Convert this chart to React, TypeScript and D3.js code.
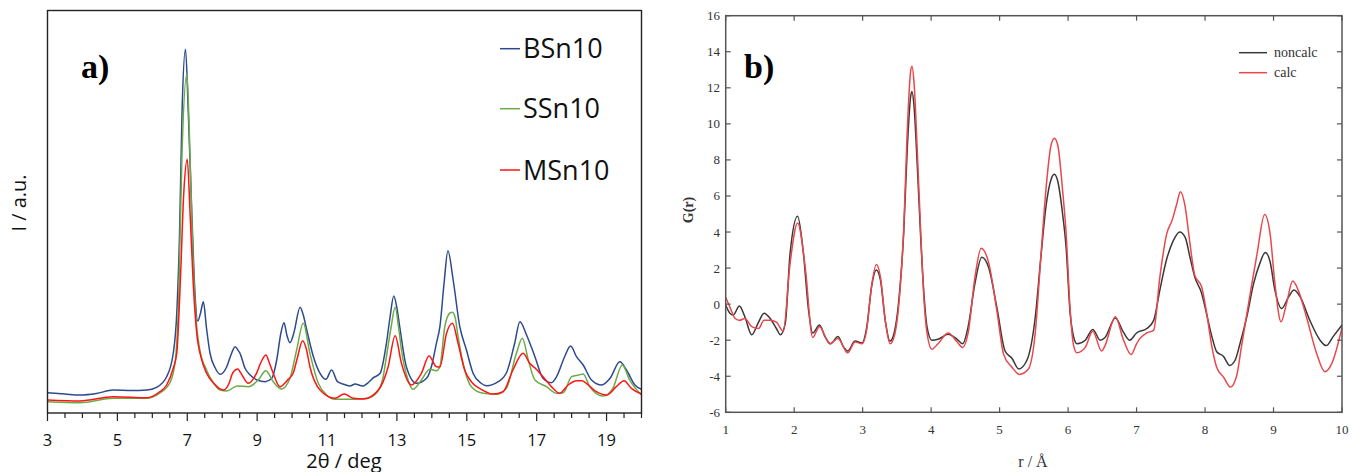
import React from "react";
import * as d3 from "d3";

// ---------- Panel a) XRD data (2θ in deg, intensity in a.u.) ----------
const bsn10: [number, number][] = [
  [3.0,20.3],[3.5,19],[3.93,18],[4.4,19.5],[4.88,23],[5.4,22.5],[5.84,23],[6.12,25.7],[6.41,36.3],[6.6,60],[6.7,100],[6.78,180],[6.85,300],[6.95,363.7],[7.03,300],[7.13,200],[7.22,120],[7.3,92],[7.38,100],[7.46,111.3],[7.55,85],[7.65,60],[7.8,45],[7.94,38.7],[8.13,46.3],[8.25,58],[8.37,66.3],[8.45,63],[8.51,59.7],[8.65,45],[8.8,38],[9.0,33],[9.23,31.3],[9.42,34.7],[9.56,53],[9.68,80],[9.77,90.3],[9.85,78],[9.94,70.3],[10.05,80],[10.23,105.7],[10.32,98],[10.42,83],[10.61,56.3],[10.8,39.7],[10.97,33.7],[11.13,43],[11.3,31.3],[11.5,28.5],[11.66,27],[11.8,29],[12.02,27],[12.2,31],[12.33,35.3],[12.52,39.7],[12.7,69.7],[12.8,95],[12.91,117],[13.0,105],[13.08,86.3],[13.27,46.3],[13.56,29.7],[13.85,34.7],[14.0,48],[14.13,69.7],[14.23,86.3],[14.35,130],[14.46,162.3],[14.61,133],[14.8,86.3],[14.99,63],[15.18,39.7],[15.4,30],[15.57,27.3],[15.9,31.3],[16.13,39.7],[16.37,69.7],[16.52,91.3],[16.71,78],[16.95,56.3],[17.18,34.7],[17.42,30.3],[17.57,36.3],[17.8,56.3],[17.97,67],[18.14,56.3],[18.33,48],[18.57,33],[18.86,28],[19.1,34.7],[19.38,51.3],[19.57,43],[19.81,28],[20.0,23.7]
];
const ssn10: [number, number][] = [
  [3.0,11.3],[3.93,10.3],[4.88,14.7],[5.84,14.7],[6.2,19.7],[6.5,30],[6.65,50],[6.75,110],[6.85,260],[6.99,339],[7.06,280],[7.15,170],[7.25,95],[7.35,65],[7.55,43],[7.75,30],[7.94,23],[8.13,22],[8.43,27],[8.75,26.3],[9.03,33],[9.25,42.3],[9.46,31.3],[9.7,24],[9.94,34.7],[10.13,63],[10.32,89.7],[10.51,59.7],[10.75,29.7],[10.99,18],[11.23,13.7],[11.75,13.7],[12.14,14.7],[12.42,20.3],[12.6,35],[12.7,56.3],[12.83,85],[12.95,105.7],[13.05,85],[13.13,63],[13.32,33],[13.46,23.7],[13.7,33],[13.94,43.7],[14.13,42.3],[14.23,46.3],[14.37,86.3],[14.52,100],[14.59,100.7],[14.67,95],[14.75,76.3],[14.94,43],[15.13,26.3],[15.47,19.7],[15.85,18.7],[16.13,24.7],[16.42,59.7],[16.59,74.7],[16.76,53],[16.95,33],[17.28,26.3],[17.57,19.7],[17.76,20.3],[18.0,36.3],[18.2,38],[18.33,39],[18.52,26.3],[18.9,17],[19.18,24.7],[19.45,48],[19.66,33],[20.0,18]
];
const msn10: [number, number][] = [
  [3.0,13],[3.93,12],[4.88,16.3],[5.84,15.3],[6.2,21],[6.41,28],[6.6,45],[6.7,60],[6.8,130],[6.9,220],[7.0,253.7],[7.08,200],[7.17,130],[7.27,80],[7.4,55],[7.55,40],[7.75,30],[8.04,23],[8.2,30],[8.3,40],[8.45,44],[8.51,41.3],[8.75,29.7],[8.98,39.7],[9.1,50],[9.25,58],[9.35,50],[9.46,39.7],[9.65,26.3],[9.89,33.7],[10.03,39.7],[10.15,55],[10.3,72.3],[10.4,65],[10.51,46.3],[10.8,23],[11.23,14.7],[11.49,19],[11.75,14.7],[12.04,14],[12.47,23],[12.75,46.3],[12.95,77.3],[13.13,49.7],[13.41,28],[13.7,39.7],[13.92,57],[14.13,46.3],[14.23,46],[14.42,79.7],[14.59,89.7],[14.75,69.7],[14.94,43],[15.13,31.3],[15.45,23],[15.75,19],[16.04,21.3],[16.32,43],[16.61,59.7],[16.8,49.7],[16.99,43.7],[17.18,36.3],[17.47,24.7],[17.66,19.7],[17.9,28],[18.14,32.3],[18.3,32.3],[18.42,29.7],[18.71,21.3],[19.0,18],[19.28,26.3],[19.5,32.3],[19.71,24.7],[20.0,19]
];
const xrdTickLabels = [3, 5, 7, 9, 11, 13, 15, 17, 19];
const xrdSeriesNames = ["BSn10", "SSn10", "MSn10"];

// ---------- Panel b) PDF data (r in Å, G(r)) ----------
const noncalc: [number, number][] = [
  [1.0,-0.05],[1.06,-0.5],[1.11,-0.6],[1.2,-0.1],[1.28,-0.7],[1.38,-1.7],[1.48,-1.0],[1.56,-0.5],[1.65,-0.8],[1.74,-1.35],[1.8,-1.7],[1.87,-1.07],[1.94,2.8],[2.05,4.88],[2.13,3.0],[2.21,-0.33],[2.27,-1.6],[2.37,-1.16],[2.45,-1.8],[2.53,-2.2],[2.64,-1.8],[2.72,-2.37],[2.78,-2.6],[2.89,-2.05],[2.99,-2.15],[3.06,-1.26],[3.13,0.96],[3.2,1.9],[3.26,1.33],[3.33,-0.9],[3.4,-2.05],[3.46,-1.6],[3.55,1.15],[3.6,4.0],[3.65,8.5],[3.7,11.5],[3.72,11.8],[3.75,11.0],[3.8,7.5],[3.85,3.5],[3.9,0.3],[3.94,-1.26],[4.01,-2.0],[4.1,-1.95],[4.25,-1.67],[4.38,-1.95],[4.46,-2.2],[4.54,-1.26],[4.64,1.15],[4.74,2.6],[4.84,2.03],[4.96,-0.18],[5.08,-2.6],[5.18,-3.0],[5.28,-3.6],[5.4,-3.1],[5.52,-0.74],[5.6,2.5],[5.68,5.5],[5.75,6.9],[5.8,7.2],[5.85,6.8],[5.92,5.0],[5.97,3.2],[6.03,-0.5],[6.08,-1.8],[6.13,-2.2],[6.25,-2.0],[6.36,-1.4],[6.47,-2.0],[6.54,-1.85],[6.69,-0.77],[6.81,-1.57],[6.9,-2.0],[7.0,-1.6],[7.15,-1.35],[7.25,-0.9],[7.34,0.78],[7.44,2.5],[7.54,3.55],[7.63,4.0],[7.71,3.7],[7.78,2.6],[7.85,1.5],[7.95,0.6],[8.02,-0.5],[8.1,-1.8],[8.17,-2.64],[8.27,-2.9],[8.36,-3.4],[8.44,-3.1],[8.51,-2.2],[8.61,-0.7],[8.71,1.15],[8.8,2.26],[8.88,2.87],[8.95,2.35],[9.02,0.78],[9.12,-0.24],[9.22,0.4],[9.3,0.78],[9.39,0.4],[9.53,-0.9],[9.68,-2.0],[9.77,-2.3],[9.87,-1.8],[10.0,-1.16]
];
const calc: [number, number][] = [
  [1.0,0.37],[1.06,-0.15],[1.14,-0.8],[1.2,-0.9],[1.28,-0.8],[1.38,-1.25],[1.48,-1.35],[1.56,-0.9],[1.65,-0.9],[1.74,-1.0],[1.84,-1.5],[1.94,2.25],[2.05,4.5],[2.16,2.1],[2.27,-1.85],[2.37,-1.25],[2.52,-2.2],[2.64,-1.9],[2.78,-2.7],[2.89,-2.1],[2.99,-2.2],[3.06,-1.4],[3.13,1.0],[3.2,2.2],[3.26,1.5],[3.33,-0.9],[3.4,-2.2],[3.46,-1.8],[3.55,1.0],[3.6,4.2],[3.65,9.5],[3.7,12.9],[3.72,13.2],[3.75,12.3],[3.8,8.3],[3.85,3.8],[3.9,0.0],[3.94,-1.6],[4.01,-2.5],[4.1,-2.2],[4.25,-1.6],[4.38,-2.1],[4.46,-2.4],[4.54,-1.6],[4.64,1.5],[4.73,3.1],[4.84,2.3],[4.96,-0.37],[5.06,-2.8],[5.18,-3.5],[5.29,-3.9],[5.42,-3.6],[5.52,-1.6],[5.6,2.5],[5.68,6.5],[5.75,8.8],[5.8,9.2],[5.85,8.8],[5.92,6.3],[5.97,4.0],[6.03,-0.3],[6.08,-2.3],[6.13,-2.7],[6.25,-2.4],[6.36,-1.5],[6.49,-2.6],[6.54,-2.3],[6.69,-0.7],[6.81,-2.0],[6.92,-2.8],[7.0,-2.2],[7.05,-1.9],[7.15,-1.6],[7.25,-1.44],[7.34,1.5],[7.44,3.9],[7.52,4.66],[7.59,5.6],[7.64,6.23],[7.71,5.4],[7.78,3.36],[7.85,1.6],[7.95,0.96],[8.02,-0.42],[8.1,-2.37],[8.17,-3.5],[8.27,-4.05],[8.37,-4.6],[8.46,-4.0],[8.53,-2.4],[8.66,0.6],[8.76,2.8],[8.87,4.97],[8.95,3.9],[9.02,1.15],[9.11,-0.98],[9.19,0.04],[9.28,1.28],[9.36,0.78],[9.48,-0.7],[9.63,-2.74],[9.75,-3.75],[9.85,-3.3],[10.0,-1.3]
];
const pdfXTicks = [1, 2, 3, 4, 5, 6, 7, 8, 9, 10];
const pdfYTicks = [-6, -4, -2, 0, 2, 4, 6, 8, 10, 12, 14, 16];
const pdfSeriesNames = ["noncalc", "calc"];

export default function App() {
  // ----- Panel a layout -----
  const aL = 47.5, aR = 641.5, aT = 10.5, aB = 413;
  const xa = d3.scaleLinear().domain([3, 20]).range([aL, aR]);
  const ya = d3.scaleLinear().domain([0, 402.5]).range([aB, aT]);
  const lineA = d3.line<[number, number]>().x(d => xa(d[0])).y(d => ya(d[1])).curve(d3.curveMonotoneX);
  const aColors = ["#2c4a8c", "#6aab48", "#ff1414"];
  const aSeries = [bsn10, ssn10, msn10];
  const minorA = d3.range(3, 20.01, 0.5);

  // ----- Panel b layout -----
  const bL = 725.7, bR = 1342, bT = 15.7, bB = 412.3;
  const xb = d3.scaleLinear().domain([1, 10]).range([bL, bR]);
  const yb = d3.scaleLinear().domain([-6, 16]).range([bB, bT]);
  const lineB = d3.line<[number, number]>().x(d => xb(d[0])).y(d => yb(d[1])).curve(d3.curveMonotoneX);
  const bColors = ["#383838", "#e8474c"];
  const bSeries = [noncalc, calc];
  const axisGray = "#555";
  const serif = "'Liberation Serif', 'Times New Roman', serif";
  const sans = "'Open Sans', 'Noto Sans', sans-serif";

  return (
    <svg width={1359} height={472} style={{ position: "absolute", left: 0, top: 0, background: "#fff" }}>
      <rect x={0} y={0} width={1359} height={472} fill="#fff" />
      {/* ================= Panel a ================= */}
      <g>
        {aSeries.map((s, i) => (
          <path key={i} d={lineA(s) || ""} fill="none" stroke={aColors[i]} strokeWidth={1.5} />
        ))}
        <rect x={aL} y={aT} width={aR - aL} height={aB - aT} fill="none" stroke="#222" strokeWidth={1.4} />
        {minorA.map((t, i) => {
          const major = xrdTickLabels.includes(t);
          return <line key={i} x1={xa(t)} x2={xa(t)} y1={aB} y2={aB + (major ? 8 : 5)} stroke="#222" strokeWidth={1.2} />;
        })}
        {xrdTickLabels.map(t => (
          <text key={t} x={xa(t)} y={446} textAnchor="middle" fontFamily={sans} fontSize={16.5} fill="#111">{t}</text>
        ))}
        <text x={344} y={468} textAnchor="middle" fontFamily={sans} fontSize={20} fill="#111">2θ / deg</text>
        <text transform="translate(26,203) rotate(-90)" textAnchor="middle" fontFamily={sans} fontSize={20} fill="#111">I / a.u.</text>
        <text x={81} y={78} fontFamily={serif} fontWeight="bold" fontSize={34} fill="#000">a)</text>
        {xrdSeriesNames.map((n, i) => {
          const ly = [48.7, 108.7, 170][i];
          const by = [58.3, 118.3, 180][i];
          return (
            <g key={n}>
              <line x1={500} x2={520} y1={ly} y2={ly} stroke={aColors[i]} strokeWidth={1.5} />
              <text x={523} y={by} fontFamily={sans} fontSize={27} fill="#111">{n}</text>
            </g>
          );
        })}
      </g>

      {/* ================= Panel b ================= */}
      <g>
        {bSeries.map((s, i) => (
          <path key={i} d={lineB(s) || ""} fill="none" stroke={bColors[i]} strokeWidth={1.5} />
        ))}
        <rect x={bL} y={bT} width={bR - bL} height={bB - bT} fill="none" stroke={axisGray} strokeWidth={1.5} />
        {pdfXTicks.map(t => (
          <g key={"xt" + t}>
            <line x1={xb(t)} x2={xb(t)} y1={bB} y2={bB - 5} stroke={axisGray} strokeWidth={1.2} />
            <line x1={xb(t)} x2={xb(t)} y1={bT} y2={bT + 5} stroke={axisGray} strokeWidth={1.2} />
            <text x={xb(t)} y={434} textAnchor="middle" fontFamily={serif} fontSize={13} fill="#333">{t}</text>
          </g>
        ))}
        {pdfYTicks.map(t => (
          <g key={"yt" + t}>
            <line x1={bL} x2={bL + 5} y1={yb(t)} y2={yb(t)} stroke={axisGray} strokeWidth={1.2} />
            <line x1={bR} x2={bR - 5} y1={yb(t)} y2={yb(t)} stroke={axisGray} strokeWidth={1.2} />
            <text x={720} y={yb(t) + 4.5} textAnchor="end" fontFamily={serif} fontSize={13} fill="#333">{t}</text>
          </g>
        ))}
        <text x={1033} y={467} textAnchor="middle" fontFamily={serif} fontSize={16} fill="#333">r / Å</text>
        <text transform="translate(693,210) rotate(-90)" textAnchor="middle" fontFamily={serif} fontWeight="bold" fontSize={14} fill="#333">G(r)</text>
        <text x={744} y={78} fontFamily={serif} fontWeight="bold" fontSize={34} fill="#000">b)</text>
        {pdfSeriesNames.map((n, i) => {
          const ly = [52.7, 72.7][i];
          return (
            <g key={n}>
              <line x1={1239} x2={1267} y1={ly} y2={ly} stroke={bColors[i]} strokeWidth={1.5} />
              <text x={1274} y={ly + 4.5} fontFamily={serif} fontSize={14} fill="#333">{n}</text>
            </g>
          );
        })}
      </g>
    </svg>
  );
}
